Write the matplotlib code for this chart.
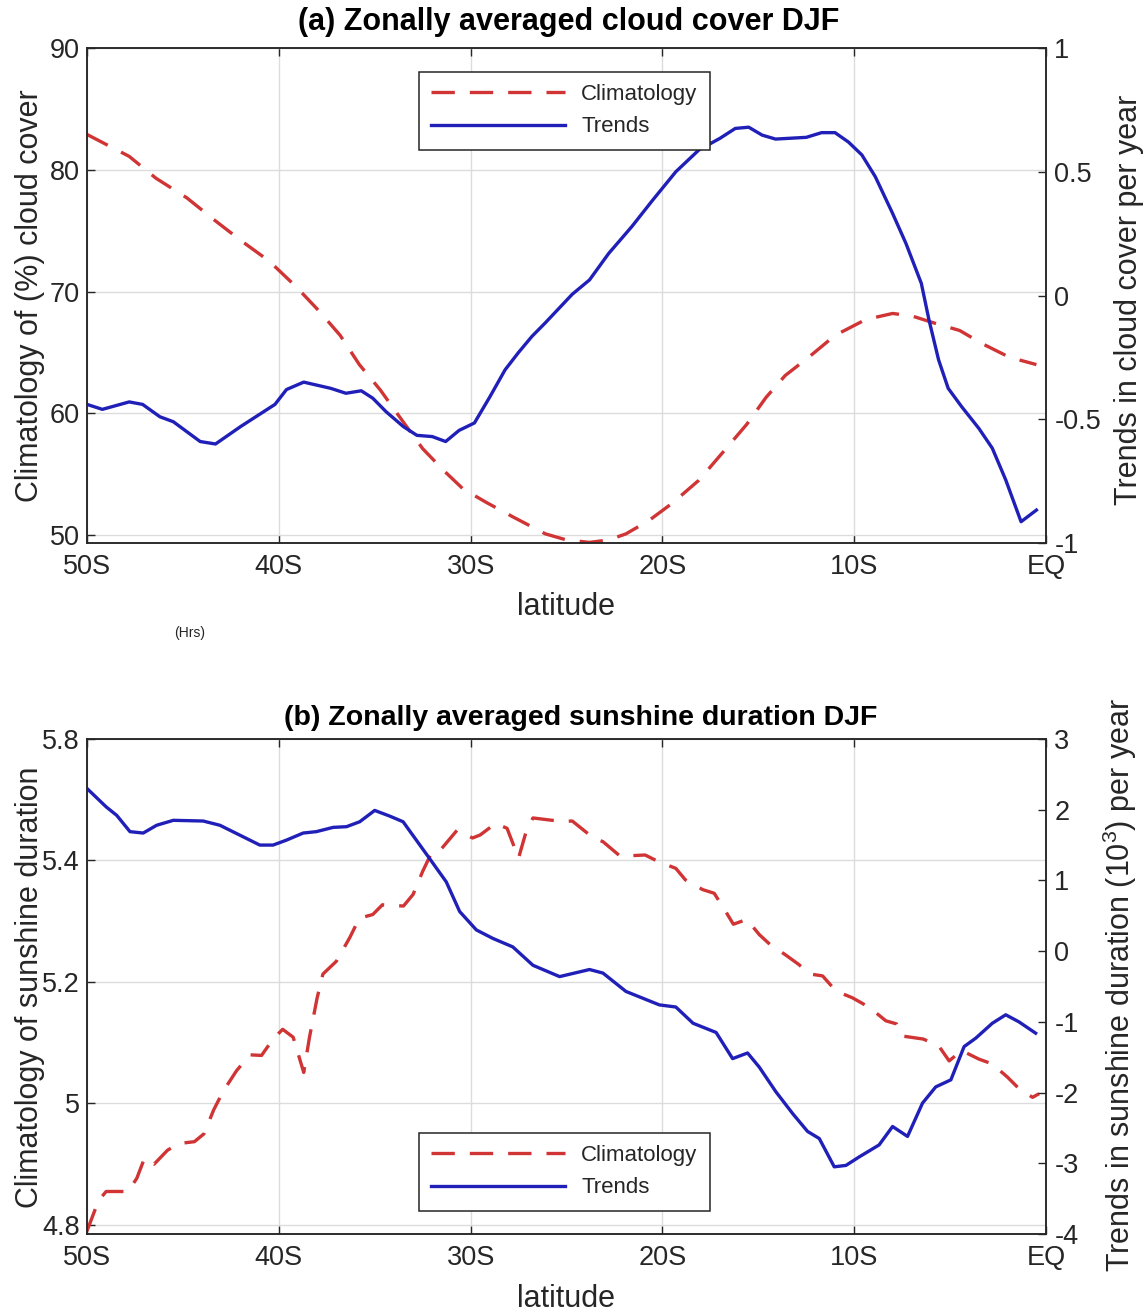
import matplotlib
matplotlib.use("Agg")
from matplotlib import pyplot as plt

# ---- data (latitude in degrees, south negative) ----
lat_cloud_clim = [-50, -47.8, -46.4, -44.8, -43.3, -41.9, -40.5, -39.1, -37.9, -36.8,
                  -35.8, -34.7, -33.7, -32.5, -31.4, -30.4, -29.2, -27.8, -26.1, -25.0,
                  -23.8, -22.8, -21.9, -20.7, -19.5, -18.1, -16.9, -15.6, -14.6, -13.6,
                  -12.3, -11.0, -9.4, -8.0, -7.0, -5.8, -4.5, -3.3, -1.9, -0.5]
cloud_clim = [82.9, 81.1, 79.3, 77.7, 75.8, 74.1, 72.5, 70.4, 68.4, 66.4,
              64.0, 61.9, 59.7, 57.1, 55.3, 53.8, 52.7, 51.5, 50.1, 49.6,
              49.4, 49.6, 50.1, 51.2, 52.6, 54.5, 56.7, 59.1, 61.3, 63.1,
              64.7, 66.4, 67.7, 68.2, 68.0, 67.4, 66.8, 65.7, 64.6, 64.0]

lat_cloud_trend = [-50, -49.2, -47.8, -47.1, -46.2, -45.5, -44.1, -43.3, -42.0, -41.0,
                   -40.2, -39.6, -38.7, -37.3, -36.5, -35.7, -35.1, -34.4, -33.5, -32.8,
                   -32.0, -31.3, -30.6, -29.8, -29.0, -28.2, -27.5, -26.8, -26.1, -24.7,
                   -23.8, -22.8, -21.6, -20.5, -19.3, -18.1, -17.0, -16.2, -15.5, -14.8,
                   -14.1, -12.5, -11.7, -11.0, -10.3, -9.6, -8.9, -8.0, -7.3, -6.5,
                   -6.1, -5.6, -5.1, -4.4, -3.5, -2.8, -2.1, -1.3, -0.5]
cloud_trend = [-0.44, -0.46, -0.43, -0.44, -0.49, -0.51, -0.59, -0.60, -0.53, -0.48,
               -0.44, -0.38, -0.35, -0.375, -0.395, -0.385, -0.415, -0.47, -0.53, -0.565,
               -0.57, -0.59, -0.545, -0.515, -0.41, -0.30, -0.23, -0.165, -0.11, 0.005,
               0.063, 0.17, 0.278, 0.386, 0.50, 0.588, 0.635, 0.675, 0.68, 0.648,
               0.632, 0.639, 0.658, 0.658, 0.62, 0.568, 0.48, 0.332, 0.21, 0.049,
               -0.099, -0.26, -0.375, -0.449, -0.537, -0.617, -0.745, -0.914, -0.867]

lat_sun_clim = [-50, -49.4, -49.0, -47.85, -47.4, -47.0, -46.5, -45.8, -45.2, -44.4,
                -43.9, -43.4, -42.9, -42.2, -41.5, -40.9, -40.3, -39.8, -39.25, -38.7,
                -38.4, -38.0, -37.7, -37.0, -36.3, -35.8, -35.1, -34.6, -33.5, -33.0,
                -32.5, -32.0, -31.5, -30.7, -29.9, -29.5, -28.7, -28.1, -27.5, -27.1,
                -26.75, -25.2, -24.7, -23.6, -23.1, -22.2, -20.9, -20.2, -19.3, -18.8,
                -17.9, -17.3, -16.7, -16.3, -15.6, -14.95, -14.4, -13.6, -12.9, -12.3,
                -11.65, -10.95, -10.1, -9.2, -8.35, -7.8, -7.5, -6.4, -5.6, -5.05,
                -4.4, -3.5, -2.8, -2.0, -1.4, -0.7, -0.36]
sun_clim = [4.79, 4.84, 4.855, 4.855, 4.877, 4.91, 4.90, 4.923, 4.934, 4.937,
            4.95, 4.989, 5.02, 5.054, 5.08, 5.079, 5.106, 5.122, 5.109, 5.051,
            5.109, 5.174, 5.213, 5.234, 5.273, 5.305, 5.311, 5.327, 5.325, 5.344,
            5.382, 5.415, 5.42, 5.45, 5.437, 5.442, 5.461, 5.453, 5.404, 5.448,
            5.47, 5.464, 5.465, 5.437, 5.431, 5.407, 5.409, 5.398, 5.387, 5.368,
            5.352, 5.346, 5.316, 5.295, 5.303, 5.278, 5.262, 5.245, 5.229, 5.213,
            5.21, 5.185, 5.174, 5.158, 5.136, 5.131, 5.111, 5.106, 5.095, 5.07,
            5.087, 5.073, 5.065, 5.043, 5.024, 5.01, 5.016]

lat_sun_trend = [-50, -49.0, -48.45, -47.76, -47.07, -46.37, -45.5, -43.94, -43.07, -42.03,
                 -40.99, -40.3, -39.6, -38.73, -38.04, -37.17, -36.47, -35.78, -35.0, -34.22,
                 -33.52, -32.83, -32.14, -31.27, -30.57, -29.7, -28.84, -27.8, -26.75, -25.36,
                 -23.8, -23.1, -21.9, -20.16, -19.3, -18.4, -17.2, -16.34, -15.56, -14.95,
                 -14.08, -13.2, -12.43, -11.82, -11.04, -10.43, -9.74, -8.7, -8.0, -7.22,
                 -6.44, -5.75, -4.96, -4.27, -3.66, -2.8, -2.1, -1.41, -0.54]
sun_trend = [2.30, 2.04, 1.92, 1.69, 1.67, 1.78, 1.85, 1.84, 1.78, 1.64,
             1.50, 1.50, 1.57, 1.67, 1.69, 1.75, 1.76, 1.83, 1.99, 1.91,
             1.83, 1.57, 1.31, 0.98, 0.56, 0.30, 0.18, 0.06, -0.20, -0.36,
             -0.26, -0.31, -0.57, -0.76, -0.79, -1.02, -1.15, -1.52, -1.44, -1.64,
             -1.99, -2.30, -2.55, -2.65, -3.05, -3.03, -2.91, -2.74, -2.48, -2.62,
             -2.15, -1.92, -1.82, -1.35, -1.23, -1.02, -0.90, -1.00, -1.16]

lat_ticks = [-50, -40, -30, -20, -10, 0]
lat_labels = ['50S', '40S', '30S', '20S', '10S', 'EQ']

cloud_ticks = [50, 60, 70, 80, 90]
cloud_trend_ticks = [-1, -0.5, 0, 0.5, 1]
sun_ticks = [4.8, 5.0, 5.2, 5.4, 5.6]
sun_tick_labels = ['4.8', '5', '5.2', '5.4', '5.8']   # as printed on the original
sun_trend_ticks = [-4, -3, -2, -1, 0, 1, 2, 3]

plt.rcParams['font.family'] = ['Liberation Sans', 'DejaVu Sans']
plt.rcParams['axes.unicode_minus'] = False
plt.rcParams['mathtext.fontset'] = 'custom'
plt.rcParams['mathtext.rm'] = 'Liberation Sans'

RED = '#d03434'
BLUE = '#2020b8'
INK = '#262626'
GRID = '#dcdcdc'
TICK_FS = 19.5
LABEL_FS = 22

W, H = 1148, 1316


def fx(px):
    return px / W


def fy(py):
    return 1 - py / H


def panel(top, bottom, lat_c, clim, lat_t, trend, ylim, yticks, ylabels,
          rlim, rticks, rlabels, legend_top):
    ax = fig.add_axes([fx(87), fy(bottom), fx(1046) - fx(87), fy(top) - fy(bottom)])
    ax2 = ax.twinx()

    l1, = ax.plot(lat_c, clim, color=RED, lw=2.4, dashes=(7, 4.5), label='Climatology')
    l2, = ax2.plot(lat_t, trend, color=BLUE, lw=2.4, label='Trends')

    ax.set_xlim(-50, 0)
    ax.set_xticks(lat_ticks)
    ax.set_xticklabels(lat_labels)
    ax.set_ylim(*ylim)
    ax.set_yticks(yticks)
    ax.set_yticklabels(ylabels)
    ax2.set_ylim(*rlim)
    ax2.set_yticks(rticks)
    ax2.set_yticklabels(rlabels)

    ax.grid(True, color=GRID, lw=1)
    ax.set_axisbelow(True)
    for a in (ax, ax2):
        for s in a.spines.values():
            s.set_color(INK)
            s.set_linewidth(1.1)
    ax.tick_params(axis='x', direction='in', length=6, width=1, colors=INK,
                   labelsize=TICK_FS, pad=8, top=True)
    ax.tick_params(axis='y', direction='in', length=6, width=1, colors=INK,
                   labelsize=TICK_FS, pad=5)
    ax2.tick_params(axis='y', direction='in', length=6, width=1, colors=INK,
                    labelsize=TICK_FS, pad=6)

    leg = ax2.legend([l1, l2], ['Climatology', 'Trends'], loc='upper left',
                     bbox_to_anchor=(332 / 959, (bottom - legend_top) / (bottom - top)),
                     borderaxespad=0, fontsize=16, handlelength=6.0, handletextpad=0.75,
                     borderpad=0.55, labelspacing=0.5, fancybox=False, framealpha=1)
    leg.get_frame().set_edgecolor(INK)
    leg.get_frame().set_linewidth(1.1)
    for t in leg.get_texts():
        t.set_color(INK)
    return ax, ax2


fig = plt.figure(figsize=(W / 100, H / 100), dpi=100)

# (a) cloud cover
panel(48, 543, lat_cloud_clim, cloud_clim, lat_cloud_trend, cloud_trend,
      (49.35, 90), cloud_ticks, [str(v) for v in cloud_ticks],
      (-1, 1), cloud_trend_ticks, ['-1', '-0.5', '0', '0.5', '1'], 72)
fig.text(fx(569), fy(22), '(a) Zonally averaged cloud cover DJF', ha='center', va='center',
         fontsize=22, fontweight='bold', color='black')
fig.text(fx(566), fy(607), 'latitude', ha='center', va='center', fontsize=LABEL_FS, color=INK)
fig.text(fx(30), fy(296), 'Climatology of (%) cloud cover', ha='center', va='center',
         rotation=90, fontsize=LABEL_FS, color=INK)
fig.text(fx(1129), fy(300), 'Trends in cloud cover per year', ha='center', va='center',
         rotation=90, fontsize=LABEL_FS, color=INK)
fig.text(fx(190), fy(633), '(Hrs)', ha='center', va='center', fontsize=10, color=INK)

# (b) sunshine duration
panel(739, 1234, lat_sun_clim, sun_clim, lat_sun_trend, sun_trend,
      (4.785, 5.6), sun_ticks, sun_tick_labels,
      (-4, 3), sun_trend_ticks, [str(v) for v in sun_trend_ticks], 1133)
fig.text(fx(581), fy(718), '(b) Zonally averaged sunshine duration DJF', ha='center',
         va='center', fontsize=20.5, fontweight='bold', color='black')
fig.text(fx(566), fy(1299), 'latitude', ha='center', va='center', fontsize=LABEL_FS, color=INK)
fig.text(fx(30), fy(987), 'Climatology of sunshine duration', ha='center', va='center',
         rotation=90, fontsize=LABEL_FS, color=INK)
fig.text(fx(1120), fy(985), 'Trends in sunshine duration (10$^3$) per year', ha='center',
         va='center', rotation=90, fontsize=LABEL_FS, color=INK)

fig.savefig('out.png', dpi=100)
